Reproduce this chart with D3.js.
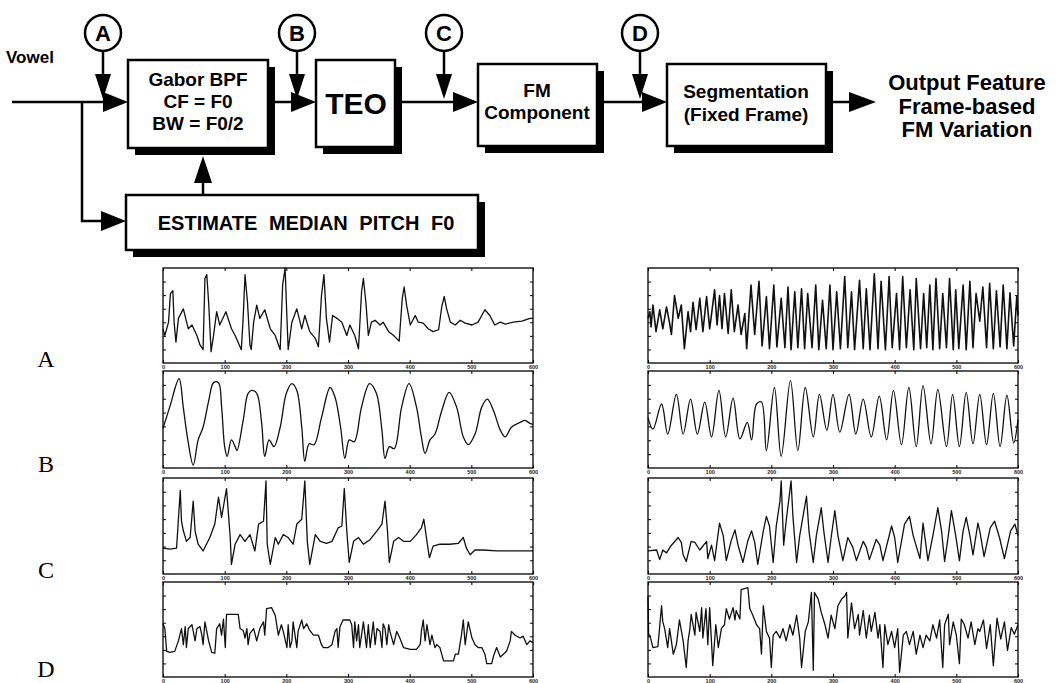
<!DOCTYPE html>
<meta charset="utf-8">
<style>
body { margin: 0; background: #fff; }
.blk { font-family: "Liberation Sans", Arial, sans-serif; font-weight: bold; }
.tick text { font-family: "Liberation Sans", Arial, sans-serif; font-weight: bold; font-size: 5.5px; fill: #222; }
.tick line { stroke: #000; stroke-width: 1; }
</style>
<body>
<script src="https://cdn.jsdelivr.net/npm/d3@7"></script>
<script>

var width = 1063, height = 683;

// x axis ticks (sample index), shared by every panel
var xTicks = [0, 100, 200, 300, 400, 500, 600];
var xTickLabels = ["0", "100", "200", "300", "400", "500", "600"];
var rowNames = ["A", "B", "C", "D"];

// waveforms: [sample, level 0..100 of the panel height]
var aLeft = [[0,36],[3,29],[9,43],[12,73],[16,76],[18,43],[21,22],[25,47],[33,57],[41,36],[47,40],[55,29],[60,19],[65,14],[68,89],[71,93],[74,64],[78,12],[82,29],[87,54],[92,40],[102,54],[111,36],[117,29],[127,14],[130,47],[133,93],[137,64],[141,19],[143,14],[147,43],[152,61],[157,47],[165,56],[174,36],[182,29],[190,14],[194,82],[198,100],[201,47],[203,14],[209,43],[217,57],[225,36],[230,50],[238,33],[247,26],[252,17],[257,71],[261,93],[265,47],[270,22],[275,50],[282,47],[290,43],[298,29],[303,40],[311,29],[317,15],[322,75],[325,89],[329,64],[333,29],[338,43],[344,45],[352,40],[357,43],[366,33],[374,29],[383,23],[388,68],[391,80],[395,61],[401,40],[409,50],[414,43],[422,42],[430,36],[438,33],[447,35],[452,59],[456,70],[460,57],[466,43],[474,40],[482,45],[490,42],[501,40],[511,43],[522,56],[530,50],[538,40],[547,43],[555,41],[568,43],[582,44],[595,47],[600,47]];
var aRight = [[0,47],[3,54],[5,38],[8,61],[13,33],[19,56],[24,36],[30,59],[35,42],[38,30],[43,71],[49,47],[54,61],[59,15],[65,54],[69,33],[73,64],[78,35],[84,68],[89,33],[95,70],[100,36],[108,77],[112,40],[116,71],[120,36],[124,73],[130,31],[135,77],[140,33],[146,61],[151,30],[157,52],[160,15],[167,82],[173,30],[180,86],[185,18],[192,70],[197,15],[204,82],[209,17],[216,68],[222,16],[227,80],[232,14],[238,75],[243,16],[249,78],[254,15],[259,73],[266,16],[272,82],[277,14],[283,66],[289,15],[295,82],[300,14],[306,75],[312,15],[319,91],[324,16],[330,75],[335,14],[343,87],[349,15],[354,78],[360,14],[367,94],[373,15],[378,86],[385,14],[391,91],[396,16],[403,73],[408,14],[413,91],[419,16],[425,77],[431,14],[435,89],[442,15],[447,73],[452,16],[457,82],[462,14],[467,89],[473,15],[478,73],[484,16],[489,89],[495,14],[499,77],[504,15],[511,82],[516,14],[522,86],[527,16],[532,73],[538,44],[543,80],[549,16],[554,84],[560,15],[565,76],[571,17],[576,82],[582,15],[587,74],[593,18],[598,70],[600,50]];
var bLeft = [[0,41],[11,63],[26,92],[33,62],[40,30],[49,3],[57,29],[65,42],[74,69],[82,88],[90,88],[95,63],[100,22],[104,12],[111,29],[117,22],[120,18],[130,49],[138,77],[144,80],[152,77],[160,46],[165,12],[172,29],[180,22],[190,42],[200,77],[209,87],[217,80],[225,42],[230,7],[237,25],[245,24],[257,52],[271,83],[279,73],[288,42],[295,10],[302,29],[310,27],[322,63],[335,87],[346,77],[355,39],[360,10],[367,22],[375,20],[387,63],[399,87],[411,63],[419,32],[425,15],[433,29],[441,35],[452,59],[464,78],[476,63],[487,32],[495,24],[506,35],[517,63],[526,71],[536,59],[547,39],[555,32],[565,42],[579,47],[587,49],[595,46],[600,45]];
var bRight = [[0,52],[8,40],[22,66],[32,35],[46,76],[57,35],[69,71],[80,35],[92,68],[103,32],[115,80],[126,32],[138,72],[149,30],[161,47],[168,29],[176,66],[184,68],[192,18],[205,83],[216,12],[231,90],[243,18],[255,83],[268,32],[278,76],[290,39],[300,76],[311,37],[326,76],[337,35],[349,71],[362,32],[375,74],[387,29],[398,80],[411,24],[423,83],[435,22],[446,85],[459,25],[470,81],[484,22],[494,76],[505,22],[516,78],[527,25],[538,76],[549,24],[560,77],[571,22],[582,75],[593,26],[600,50]];
var cLeft = [[0,27],[11,26],[22,27],[28,87],[30,55],[33,45],[38,34],[44,38],[49,76],[52,45],[57,31],[65,24],[76,38],[84,52],[90,80],[95,59],[103,89],[109,38],[111,10],[117,31],[125,41],[133,34],[141,41],[149,24],[155,52],[163,55],[167,97],[169,31],[174,10],[182,38],[187,31],[195,41],[203,38],[211,31],[217,52],[225,57],[230,97],[234,34],[238,10],[247,41],[255,34],[265,32],[274,34],[284,48],[290,50],[294,89],[298,45],[302,12],[309,34],[317,38],[325,31],[336,36],[347,45],[355,52],[360,76],[364,45],[367,12],[374,34],[382,38],[390,34],[401,34],[411,41],[419,48],[423,57],[428,34],[432,17],[438,29],[449,31],[465,31],[479,32],[487,38],[492,27],[498,20],[506,25],[519,25],[541,24],[563,24],[595,24],[600,24]];
var cRight = [[0,24],[14,25],[19,15],[24,25],[30,22],[38,30],[49,38],[54,33],[57,20],[62,13],[70,34],[76,33],[84,25],[95,34],[97,16],[103,30],[108,14],[116,53],[122,40],[127,14],[135,35],[141,46],[146,30],[154,12],[162,35],[168,45],[173,33],[178,10],[187,45],[192,60],[197,50],[203,12],[208,50],[214,76],[216,97],[220,30],[224,55],[232,97],[235,60],[241,12],[246,40],[257,81],[261,45],[268,12],[273,40],[281,69],[285,45],[292,12],[297,38],[303,66],[308,40],[316,14],[324,38],[332,28],[338,14],[349,34],[354,28],[359,15],[370,36],[376,30],[381,14],[395,50],[400,38],[405,12],[416,52],[424,60],[430,40],[441,16],[446,53],[454,14],[462,40],[470,69],[476,45],[481,13],[487,40],[492,66],[499,40],[505,14],[511,45],[516,59],[522,40],[527,20],[535,53],[538,45],[545,18],[555,48],[562,55],[570,38],[578,16],[588,45],[595,52],[600,40]];
var dLeft = [[0,56],[3,51],[6,27],[11,26],[19,27],[25,38],[30,51],[33,34],[36,53],[38,31],[41,51],[47,55],[52,38],[55,51],[60,53],[63,44],[65,34],[68,58],[74,38],[79,26],[84,25],[87,51],[92,56],[95,44],[98,61],[101,31],[103,66],[114,66],[122,66],[125,51],[130,49],[133,41],[136,51],[138,34],[141,46],[147,51],[152,38],[157,51],[163,58],[165,44],[168,72],[176,73],[182,65],[187,44],[192,55],[195,48],[201,31],[203,55],[206,31],[209,38],[211,58],[217,31],[219,48],[225,60],[228,51],[233,56],[238,49],[244,44],[252,44],[257,34],[260,31],[268,31],[274,34],[279,48],[282,51],[284,31],[287,53],[292,60],[303,60],[306,55],[309,31],[311,58],[314,38],[317,55],[319,31],[325,58],[330,31],[333,55],[336,31],[341,58],[344,34],[347,51],[352,48],[355,31],[357,56],[360,51],[363,34],[366,55],[368,48],[374,34],[379,48],[384,41],[390,31],[401,29],[411,29],[417,34],[419,48],[422,60],[425,38],[428,55],[433,34],[436,44],[441,31],[444,34],[449,31],[455,17],[471,17],[474,24],[479,24],[484,44],[487,60],[490,34],[495,58],[501,41],[506,34],[511,31],[517,31],[522,24],[525,14],[533,14],[536,22],[541,31],[547,21],[552,24],[557,27],[563,38],[565,48],[571,44],[579,41],[584,43],[590,34],[595,38],[600,36]];
var dRight = [[0,85],[1,44],[3,44],[8,31],[16,32],[22,75],[24,58],[27,51],[32,31],[35,51],[41,24],[46,34],[51,60],[57,38],[62,10],[65,38],[68,51],[70,66],[76,44],[78,68],[84,48],[87,73],[89,41],[94,72],[97,34],[100,73],[105,12],[110,55],[114,31],[119,51],[124,55],[127,72],[132,61],[138,73],[141,60],[143,70],[149,61],[151,92],[162,94],[165,72],[170,65],[176,55],[181,51],[184,24],[187,75],[192,48],[197,41],[200,10],[203,44],[208,48],[214,41],[219,51],[224,38],[230,55],[235,44],[241,65],[246,41],[249,10],[255,48],[260,58],[265,89],[268,7],[270,89],[276,82],[281,68],[287,55],[292,41],[297,65],[303,51],[308,75],[314,82],[319,85],[322,89],[324,41],[330,78],[335,51],[341,66],[343,44],[349,70],[354,41],[359,65],[362,48],[368,68],[373,41],[376,55],[381,10],[384,55],[389,34],[395,48],[400,31],[405,51],[408,5],[414,44],[419,48],[424,34],[430,48],[435,24],[441,44],[446,31],[451,44],[457,38],[462,55],[468,41],[473,60],[478,10],[481,55],[487,66],[489,34],[495,58],[500,44],[505,14],[508,61],[513,55],[519,41],[524,58],[530,34],[535,51],[538,48],[544,60],[549,30],[555,55],[560,12],[566,62],[572,40],[578,58],[583,28],[589,52],[594,45],[600,55]];

var series = [[aLeft, aRight], [bLeft, bRight], [cLeft, cRight], [dLeft, dRight]];

var svg = d3.select("body").append("svg")
    .attr("width", width)
    .attr("height", height);
svg.append("rect").attr("width", width).attr("height", height).attr("fill", "#fff");

// ---------- block diagram ----------
var dg = svg.append("g").attr("class", "blk");

function box(x, y, w, h) {
  dg.append("rect").attr("x", x + 7).attr("y", y + 7).attr("width", w).attr("height", h).attr("fill", "#000");
  dg.append("rect").attr("x", x).attr("y", y).attr("width", w).attr("height", h)
    .attr("fill", "#fff").attr("stroke", "#000").attr("stroke-width", 2.5);
}
function line(pts) {
  dg.append("path").attr("d", d3.line()(pts)).attr("fill", "none")
    .attr("stroke", "#000").attr("stroke-width", 2.5);
}
// arrow head, tip at (tx,ty), dir "r","d","u"
function head(tx, ty, dir, len, hw) {
  var p;
  if (dir == "r") p = [[tx - len, ty - hw], [tx, ty], [tx - len, ty + hw]];
  if (dir == "d") p = [[tx - hw, ty - len], [tx, ty], [tx + hw, ty - len]];
  if (dir == "u") p = [[tx - hw, ty + len], [tx, ty], [tx + hw, ty + len]];
  dg.append("path").attr("d", d3.line()(p) + "Z").attr("fill", "#000");
}
function label(x, y, s, size) {
  dg.append("text").attr("x", x).attr("y", y).attr("text-anchor", "middle")
    .attr("font-size", size).text(s);
}
function probe(cx, cy, s) {
  dg.append("circle").attr("cx", cx).attr("cy", cy).attr("r", 18)
    .attr("fill", "#fff").attr("stroke", "#000").attr("stroke-width", 2.5);
  label(cx, cy + 8, s, 22);
  line([[cx, cy + 18], [cx, 80]]);
  head(cx, 99, "d", 25, 8);
}

var mainY = 102;
dg.append("text").attr("x", 6).attr("y", 63).attr("font-size", 17).text("Vowel");
line([[12, mainY], [106, mainY]]);
head(128, mainY, "r", 25, 10);
line([[82, mainY], [82, 221], [104, 221]]);
head(126, 221, "r", 25, 10);

box(128, 60, 140, 88);
label(198, 86, "Gabor BPF", 19);
label(198, 108, "CF = F0", 19);
label(198, 130, "BW = F0/2", 19);

line([[268, mainY], [294, mainY]]);
head(316, mainY, "r", 25, 10);
box(316, 60, 79, 87);
label(356, 114, "TEO", 30);

line([[402, mainY], [456, mainY]]);
head(478, mainY, "r", 25, 10);
box(478, 64, 119, 82);
label(537, 97, "FM", 19);
label(537, 119, "Component", 19);

line([[604, mainY], [645, mainY]]);
head(667, mainY, "r", 25, 10);
box(667, 64, 159, 82);
label(746, 98, "Segmentation", 19);
label(746, 121, "(Fixed Frame)", 19);

line([[833, mainY], [850, mainY]]);
head(876, mainY, "r", 27, 10);
label(967, 90, "Output  Feature", 22);
label(967, 114, "Frame-based", 22);
label(967, 137, "FM Variation", 22);

box(126, 195, 352, 55);
dg.append("text").attr("x", 306).attr("y", 230).attr("text-anchor", "middle")
  .attr("font-size", 20).attr("word-spacing", 6).text("ESTIMATE MEDIAN PITCH F0");
line([[203, 195], [203, 180]]);
head(203, 156, "u", 27, 9);

probe(103, 33, "A");
probe(297, 33, "B");
probe(444, 33, "C");
probe(640, 33, "D");

// ---------- waveform panels ----------
var colX = [163, 648], panelW = 370;
var rowTop = [268, 371, 478, 582], rowH = [95, 97, 96, 95];
var labelY = [367, 472, 578, 677];
var yTicks = d3.range(1, 7).map(function(i) { return i * 100 / 7; });

rowNames.forEach(function(name, r) {
  svg.append("text").attr("x", 46).attr("y", labelY[r]).attr("text-anchor", "middle")
    .attr("font-family", "'Liberation Serif', 'DejaVu Serif', serif").attr("font-size", 24)
    .text(name);

  colX.forEach(function(x0, c) {
    var x = d3.scaleLinear().domain([0, 600]).range([x0, x0 + panelW]);
    var y = d3.scaleLinear().domain([0, 100]).range([rowTop[r] + rowH[r], rowTop[r]]);
    var g = svg.append("g");

    g.append("path")
      .datum(series[r][c])
      .attr("fill", "none")
      .attr("stroke", "#111")
      .attr("stroke-width", r == 0 && c == 1 ? 1.6 : 1.3)
      .attr("stroke-linejoin", "round")
      .attr("d", d3.line()
        .curve(r == 1 ? d3.curveCatmullRom : d3.curveLinear)
        .x(function(d) { return x(d[0]); }).y(function(d) { return y(d[1]); }));

    g.append("g").attr("transform", "translate(0," + (rowTop[r] + rowH[r]) + ")")
      .call(d3.axisBottom(x).tickValues(xTicks).tickFormat(function(d, i) { return xTickLabels[i]; })
        .tickSizeInner(-3).tickSizeOuter(0).tickPadding(2))
      .call(function(a) { a.select(".domain").remove(); });
    g.append("g").attr("transform", "translate(0," + rowTop[r] + ")")
      .call(d3.axisTop(x).tickValues(xTicks).tickFormat("").tickSizeInner(-3).tickSizeOuter(0))
      .call(function(a) { a.select(".domain").remove(); });
    g.append("g").attr("transform", "translate(" + x0 + ",0)")
      .call(d3.axisLeft(y).tickValues(yTicks).tickFormat("").tickSizeInner(-3).tickSizeOuter(0))
      .call(function(a) { a.select(".domain").remove(); });
    g.append("g").attr("transform", "translate(" + (x0 + panelW) + ",0)")
      .call(d3.axisRight(y).tickValues(yTicks).tickFormat("").tickSizeInner(-3).tickSizeOuter(0))
      .call(function(a) { a.select(".domain").remove(); });

    g.append("rect").attr("x", x0).attr("y", rowTop[r]).attr("width", panelW).attr("height", rowH[r])
      .attr("fill", "none").attr("stroke", "#000").attr("stroke-width", 1.3);
  });
});

</script>
</body>
</html>
